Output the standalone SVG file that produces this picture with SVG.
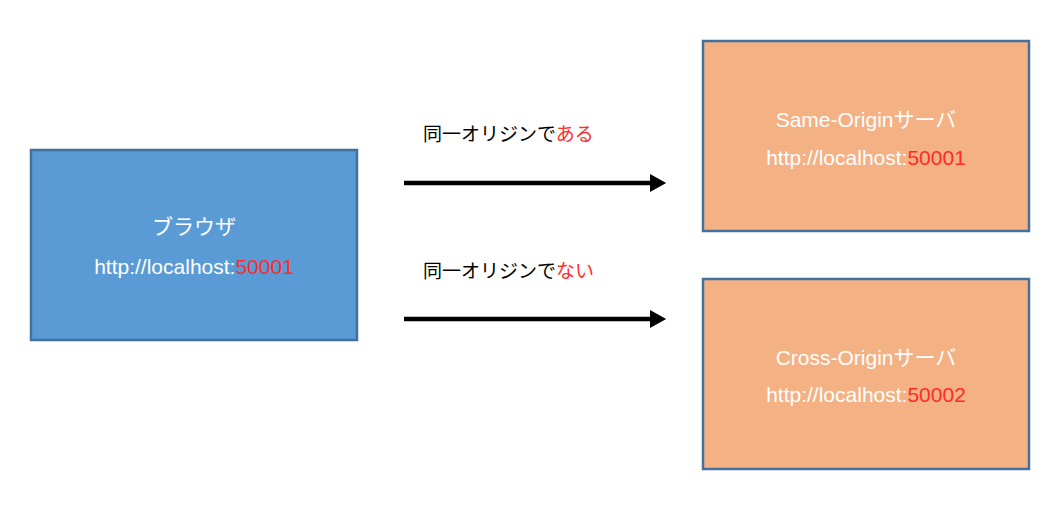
<svg xmlns="http://www.w3.org/2000/svg" width="1062" height="515" viewBox="0 0 1062 515">
<style>
.box{stroke:#41719C;stroke-width:2.5}
.t{font-family:"Liberation Sans","Noto Sans CJK JP",sans-serif;font-size:21px;fill:#fff;text-anchor:middle}
.l{font-family:"Liberation Sans","Noto Sans CJK JP",sans-serif;font-size:19px;fill:#000}
.r{fill:#FF2B2B}
</style>
<defs><marker id="a" markerWidth="4" markerHeight="4" refX="0" refY="2" orient="auto" markerUnits="strokeWidth"><path d="M0,0 L3.6,2 L0,4Z" fill="#000"/></marker></defs>
<rect width="1062" height="515" fill="#fff"/>
<g id="browser"><rect class="box" x="31" y="150" width="326" height="190" fill="#5B9BD5"/>
<text class="t" x="194" y="234">ブラウザ</text>
<text class="t" x="194" y="274">http://localhost:<tspan class="r">50001</tspan></text></g>
<g id="same"><rect class="box" x="703" y="41" width="326" height="190" fill="#F4B183"/>
<text class="t" x="866" y="127">Same-Originサーバ</text>
<text class="t" x="866" y="165">http://localhost:<tspan class="r">50001</tspan></text></g>
<g id="cross"><rect class="box" x="703" y="279" width="326" height="190" fill="#F4B183"/>
<text class="t" x="866" y="365">Cross-Originサーバ</text>
<text class="t" x="866" y="402">http://localhost:<tspan class="r">50002</tspan></text></g>
<g id="connectors" stroke="#000" stroke-width="4.5">
<line x1="404" y1="183" x2="650" y2="183" marker-end="url(#a)"/>
<line x1="404" y1="319" x2="650" y2="319" marker-end="url(#a)"/>
</g>
<text class="l" x="423" y="141">同一オリジンで<tspan class="r">ある</tspan></text>
<text class="l" x="423" y="278">同一オリジンで<tspan class="r">ない</tspan></text>
</svg>
